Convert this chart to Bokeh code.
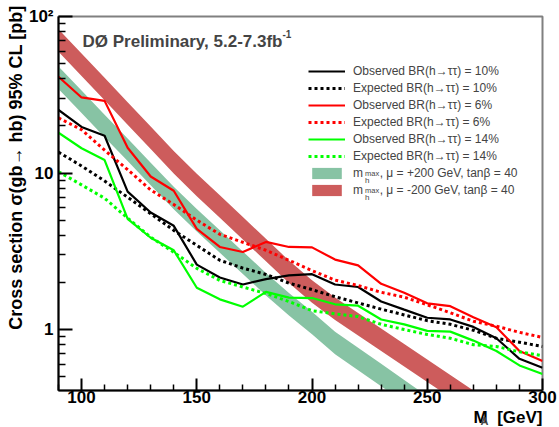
import math
from bokeh.plotting import figure
from bokeh.models import FixedTicker, Label, Legend, LegendItem, CustomJSTickFormatter, Title
from bokeh.embed import file_html
from bokeh.resources import INLINE

# ---------------- data ----------------
mass = [90, 100, 110, 120, 130, 140, 150, 160, 170, 180, 190,
        200, 210, 220, 230, 240, 250, 260, 270, 280, 290, 300]

obs_10 = [25.3, 19.7, 17.3, 7.6, 5.6, 4.6, 2.6, 2.15, 1.94, 2.1, 2.22,
          2.26, 1.94, 1.87, 1.51, 1.34, 1.19, 1.16, 1.04, 0.88, 0.65, 0.57]
exp_10 = [13.6, 11.1, 8.9, 7.0, 5.5, 4.3, 3.45, 2.77, 2.47, 2.25, 1.98,
          1.80, 1.62, 1.48, 1.35, 1.24, 1.14, 1.08, 0.99, 0.88, 0.83, 0.78]
obs_6 = [41.2, 30.4, 28.9, 14.5, 9.5, 7.7, 4.4, 3.37, 3.13, 3.63, 3.37,
         3.35, 2.80, 2.57, 1.96, 1.72, 1.47, 1.41, 1.20, 1.035, 0.73, 0.63]
exp_6 = [22.5, 18.9, 14.0, 10.5, 7.8, 6.3, 5.0, 4.06, 3.61, 3.21, 2.77,
         2.38, 2.07, 1.91, 1.73, 1.61, 1.44, 1.28, 1.13, 1.05, 0.96, 0.89]
obs_14 = [18.1, 14.4, 12.1, 5.1, 3.86, 3.21, 1.85, 1.56, 1.40, 1.74, 1.60,
          1.59, 1.45, 1.42, 1.16, 1.08, 0.98, 0.97, 0.85, 0.73, 0.59, 0.52]
exp_14 = [10.2, 8.4, 6.9, 5.15, 3.89, 3.12, 2.46, 2.06, 1.87, 1.70, 1.51,
          1.32, 1.26, 1.21, 1.08, 1.0, 0.93, 0.88, 0.80, 0.78, 0.72, 0.68]

# theory bands (centre values), m_h^max, tan(beta)=40
band_mu_plus = [40.6, 28.5, 20.0, 14.1, 9.86, 6.92, 4.99, 3.65, 2.67, 1.95, 1.45,
                1.10, 0.822, 0.649, 0.512, 0.404, 0.318, 0.251, 0.198, 0.156, 0.123, 0.097]
band_mu_minus = [70.3, 49.1, 34.4, 24.0, 16.8, 11.7, 8.40, 6.11, 4.44, 3.22, 2.34,
                 1.75, 1.36, 1.08, 0.862, 0.686, 0.546, 0.435, 0.346, 0.275, 0.219, 0.175]

x_major = [100, 150, 200, 250, 300]
x_minor = [90, 110, 120, 130, 140, 160, 170, 180, 190, 210, 220, 230, 240,
           260, 270, 280, 290]
y_major = [1, 10, 100]
y_minor = [0.5, 0.6, 0.7, 0.8, 0.9, 2, 3, 4, 5, 6, 7, 8, 9,
           20, 30, 40, 50, 60, 70, 80, 90]

NB = "\u00a0"
labels = [
    "Observed BR(h\u2192\u03c4\u03c4) = 10%",
    "Expected BR(h\u2192\u03c4\u03c4) = 10%",
    "Observed BR(h\u2192\u03c4\u03c4) = 6%",
    "Expected BR(h\u2192\u03c4\u03c4) = 6%",
    "Observed BR(h\u2192\u03c4\u03c4) = 14%",
    "Expected BR(h\u2192\u03c4\u03c4) = 14%",
    "m" + NB * 5 + ", \u03bc = +200 GeV, tan\u03b2 = 40",
    "m" + NB * 5 + ", \u03bc = -200 GeV, tan\u03b2 = 40",
]

FONT = "Liberation Sans"
BAND = 1.18  # half-thickness factor of the theory bands (style)

# ---------------- figure ----------------
p = figure(width=559, height=427, x_range=(90, 300), y_range=(0.408, 100),
           y_axis_type="log", output_backend="svg", toolbar_location=None,
           min_border_left=58, min_border_right=17, min_border_top=16,
           min_border_bottom=37)
p.xgrid.visible = False
p.ygrid.visible = False
p.outline_line_color = "#808080"
p.outline_line_width = 2
p.background_fill_color = "white"
p.border_fill_color = "white"

r_bp = p.varea(x=mass, y1=[v / BAND for v in band_mu_plus],
               y2=[v * BAND for v in band_mu_plus], fill_color="#87c3a4")
r_bm = p.varea(x=mass, y1=[v / BAND for v in band_mu_minus],
               y2=[v * BAND for v in band_mu_minus], fill_color="#cd5c5c")

SOLID_W = 2.2
DOT_W = 3
DOT = "3 3"
r_o10 = p.line(mass, obs_10, line_color="black", line_width=SOLID_W)
r_e10 = p.line(mass, exp_10, line_color="black", line_width=DOT_W, line_dash=DOT)
r_o6 = p.line(mass, obs_6, line_color="#ff0000", line_width=SOLID_W)
r_e6 = p.line(mass, exp_6, line_color="#ff0000", line_width=DOT_W, line_dash=DOT)
r_o14 = p.line(mass, obs_14, line_color="#00ff00", line_width=SOLID_W)
r_e14 = p.line(mass, exp_14, line_color="#00ff00", line_width=DOT_W, line_dash=DOT)

rends = [r_o10, r_e10, r_o6, r_e6, r_o14, r_e14, r_bp, r_bm]
legend = Legend(items=[LegendItem(label=l, renderers=[r]) for l, r in zip(labels, rends)],
                location=(250, 193), label_text_font=FONT, label_text_font_size="12px",
                glyph_width=37, glyph_height=14, label_height=14, label_standoff=8,
                spacing=3, padding=0, margin=0, border_line_color=None,
                background_fill_alpha=0)
p.add_layout(legend)

# superscript/subscript of m_h^max in the legend
for ybase in (217, 200):
    p.add_layout(Label(x=306.5, y=ybase, x_units="screen", y_units="screen", text="max",
                       text_font=FONT, text_font_size="7.5px", text_baseline="alphabetic"))
    p.add_layout(Label(x=306.5, y=ybase - 7, x_units="screen", y_units="screen", text="h",
                       text_font=FONT, text_font_size="8px", text_baseline="alphabetic"))

# ---------------- axes ----------------
p.xaxis.ticker = FixedTicker(ticks=x_major, minor_ticks=x_minor)
p.yaxis.ticker = FixedTicker(ticks=y_major, minor_ticks=y_minor)
p.yaxis.formatter = CustomJSTickFormatter(
    code="if (Math.abs(tick-100) < 1e-6) return '10\u00b2'; return String(Math.round(tick));")
for ax in (p.xaxis[0], p.yaxis[0]):
    ax.axis_line_color = "black"
    ax.axis_line_width = 2
    ax.major_tick_line_color = "black"
    ax.minor_tick_line_color = "black"
    ax.major_tick_line_width = 2
    ax.minor_tick_line_width = 1.5
    ax.major_tick_out = 0
    ax.minor_tick_out = 0
    ax.major_label_text_font = FONT
    ax.major_label_text_font_style = "bold"
    ax.major_label_text_font_size = "17px"
    ax.major_label_text_color = "black"
p.xaxis.major_tick_in = 12
p.xaxis.minor_tick_in = 6
p.yaxis.major_tick_in = 14
p.yaxis.minor_tick_in = 7
p.xaxis.major_label_standoff = 0
p.yaxis.major_label_standoff = 5

# axis titles
p.add_layout(Title(text="Cross section \u03c3(gb\u2192 hb) 95% CL [pb]", align="right",
                   offset=-11, standoff=0, text_font=FONT, text_font_style="bold",
                   text_font_size="18px", text_color="black"), "left")
p.add_layout(Title(text="M" + NB * 2 + "[GeV]", align="right", standoff=0, text_font=FONT,
                   text_font_style="bold", text_font_size="17px", text_color="black"), "below")
p.add_layout(Label(x=-62, y=-30, x_units="screen", y_units="screen", text="A",
                   text_font=FONT, text_font_style="bold", text_font_size="11px",
                   text_baseline="alphabetic"), "right")

# header inside the frame
p.add_layout(Label(x=24, y=349, x_units="screen", y_units="screen",
                   text="D\u00d8 Preliminary, 5.2-7.3fb", text_font=FONT,
                   text_font_style="bold", text_font_size="17px", text_baseline="alphabetic"))
p.add_layout(Label(x=224, y=357, x_units="screen", y_units="screen", text="-1",
                   text_font=FONT, text_font_style="bold", text_font_size="10px",
                   text_baseline="alphabetic"))

open("out.html", "w").write(file_html(p, INLINE))
